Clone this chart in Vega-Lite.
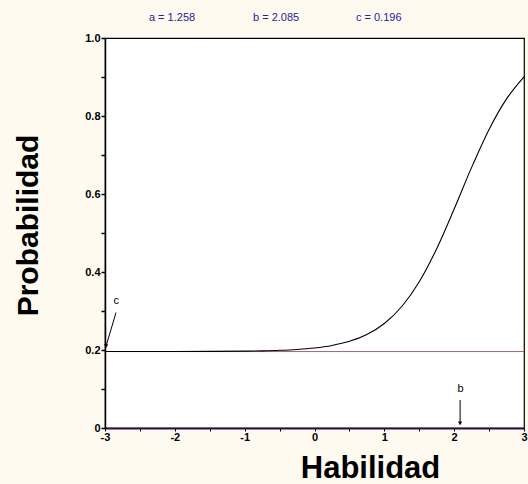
{
  "$schema": "https://vega.github.io/schema/vega-lite/v6.json",
  "width": 419,
  "height": 390,
  "autosize": {"type": "none"},
  "padding": {"left": 105, "top": 38, "right": 4, "bottom": 56},
  "background": "#FFFAF0",
  "config": {
    "font": "Liberation Sans",
    "view": {"fill": "white", "stroke": "black", "strokeWidth": 1.2}
  },
  "datasets": {
    "curve": [
      {"x": -3, "y": 0.19602}, {"x": -2.5, "y": 0.19606}, {"x": -2, "y": 0.19613},
      {"x": -1.5, "y": 0.19638}, {"x": -1, "y": 0.1971}, {"x": -0.75, "y": 0.19787},
      {"x": -0.5, "y": 0.19918}, {"x": -0.25, "y": 0.20141}, {"x": 0, "y": 0.2052},
      {"x": 0.25, "y": 0.2116}, {"x": 0.5, "y": 0.2222}, {"x": 0.75, "y": 0.2398},
      {"x": 1, "y": 0.2679}, {"x": 1.25, "y": 0.3115}, {"x": 1.5, "y": 0.3749},
      {"x": 1.75, "y": 0.4599}, {"x": 2, "y": 0.5616}, {"x": 2.25, "y": 0.6682},
      {"x": 2.5, "y": 0.7656}, {"x": 2.75, "y": 0.8438}, {"x": 3, "y": 0.9005}
    ],
    "cline": [{"x": -3, "y": 0.196}, {"x": 3, "y": 0.196}],
    "params": [
      {"x": -2.04, "y": 1.052, "label": "a = 1.258"},
      {"x": -0.55, "y": 1.052, "label": "b = 2.085"},
      {"x": 0.92, "y": 1.052, "label": "c = 0.196"}
    ],
    "notes": [
      {"x": -2.84, "y": 0.325, "label": "c"},
      {"x": 2.09, "y": 0.1, "label": "b"}
    ],
    "arrows": [
      {"x": -2.842, "y": 0.296, "x2": -2.985, "y2": 0.21},
      {"x": 2.085, "y": 0.072, "x2": 2.085, "y2": 0.012}
    ]
  },
  "encoding": {
    "x": {
      "field": "x", "type": "quantitative",
      "scale": {"domain": [-3, 3], "nice": false, "zero": false},
      "axis": {
        "title": "Habilidad", "titleFontSize": 31, "titleFontWeight": "bold",
        "titleColor": "black", "titleX": 265, "titleY": 49, "titleAlign": "center",
        "titleBaseline": "alphabetic",
        "values": [-3, -2.5, -2, -1.5, -1, -0.5, 0, 0.5, 1, 1.5, 2, 2.5, 3],
        "labelExpr": "datum.value % 1 == 0 ? '' + datum.value : ''",
        "labelFontSize": 11, "labelFontWeight": "bold", "labelColor": "black",
        "labelPadding": 0, "labelFlush": false,
        "tickSize": 3, "tickColor": "black",
        "domainColor": "#2a1040", "domainWidth": 2, "grid": false
      }
    },
    "y": {
      "field": "y", "type": "quantitative",
      "scale": {"domain": [0, 1], "nice": false},
      "axis": {
        "title": "Probabilidad", "titleFontSize": 30, "titleFontWeight": "bold",
        "titleColor": "black", "titleX": -68, "titleY": 187, "titleAlign": "center",
        "titleBaseline": "alphabetic", "titleAngle": -90,
        "values": [0, 0.1, 0.2, 0.3, 0.4, 0.5, 0.6, 0.7, 0.8, 0.9, 1.0],
        "labelExpr": "datum.value == 0 ? '0' : (round(datum.value * 10) % 2 == 0 ? format(datum.value, '.1f') : '')",
        "labelFontSize": 11, "labelFontWeight": "bold", "labelColor": "black",
        "labelPadding": 1, "labelFlush": false,
        "tickSize": 4, "tickColor": "black", "tickWidth": 1.5,
        "domainColor": "black", "domainWidth": 1.5, "grid": false
      }
    }
  },
  "layer": [
    {
      "data": {"name": "cline"},
      "mark": {"type": "line", "color": "#a06868", "strokeWidth": 1}
    },
    {
      "data": {"name": "curve"},
      "mark": {"type": "line", "color": "black", "strokeWidth": 1.1, "interpolate": "monotone"}
    },
    {
      "data": {"name": "params"},
      "mark": {"type": "text", "color": "#23239a", "fontSize": 11, "align": "center", "baseline": "middle"},
      "encoding": {"text": {"field": "label"}}
    },
    {
      "data": {"name": "notes"},
      "mark": {"type": "text", "color": "black", "fontSize": 11, "align": "center", "baseline": "middle"},
      "encoding": {"text": {"field": "label"}}
    },
    {
      "data": {"name": "arrows"},
      "mark": {"type": "rule", "color": "black", "strokeWidth": 1},
      "encoding": {"x2": {"field": "x2"}, "y2": {"field": "y2"}}
    },
    {
      "data": {"name": "arrows"},
      "mark": {"type": "point", "shape": "triangle-down", "filled": true, "color": "black", "size": 18, "opacity": 1},
      "encoding": {
        "x": {"field": "x2", "type": "quantitative"},
        "y": {"field": "y2", "type": "quantitative"}
      }
    }
  ]
}
